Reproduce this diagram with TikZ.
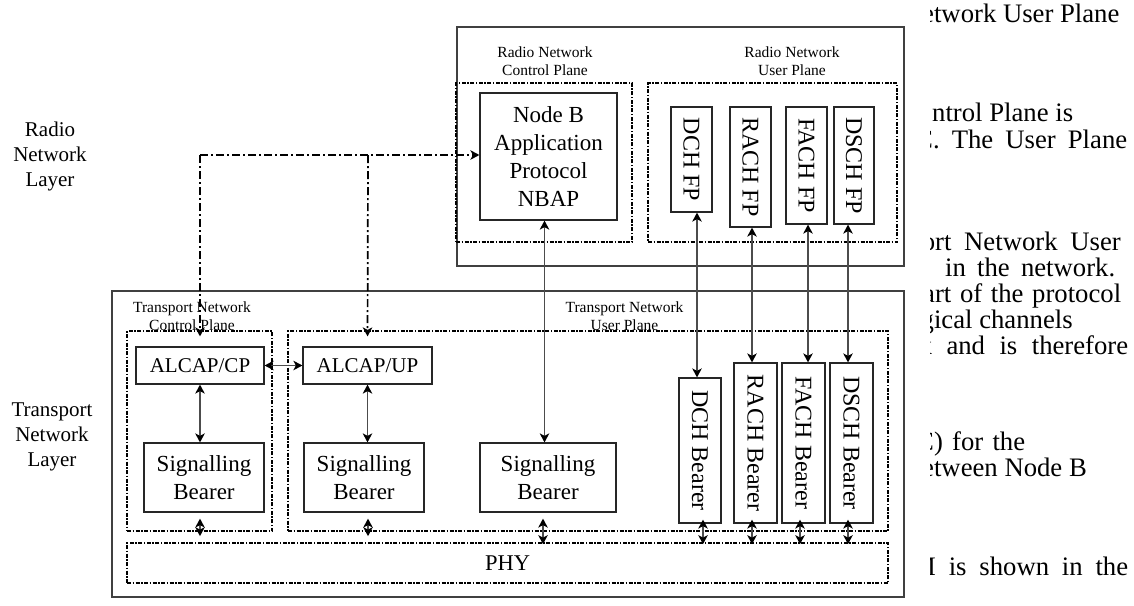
\documentclass[tikz,border=0pt]{standalone}
\usepackage{fontspec}
\setmainfont{Liberation Serif}
\usetikzlibrary{arrows.meta}

\begin{document}
\begin{tikzpicture}[x=1pt,y=-1pt,
  frame/.style={draw=black!75, line width=1.3pt, inner sep=0pt},
  plane/.style={draw=black, line width=1.7pt, inner sep=0pt,
    dash pattern=on 4pt off 1.5pt on 1.5pt off 1.5pt},
  box/.style={draw=black!85, line width=1.2pt, inner sep=0pt, align=center},
  bigtxt/.style={font=\fontsize{23pt}{28pt}\selectfont},
  midtxt/.style={font=\fontsize{21pt}{26pt}\selectfont},
  vtxt/.style={rotate=-90, inner sep=0pt, font=\fontsize{24pt}{28pt}\selectfont},
  planelbl/.style={align=center, inner sep=0pt, font=\fontsize{15.5pt}{18pt}\selectfont},
  layerlbl/.style={align=center, inner sep=0pt, font=\fontsize{21pt}{25pt}\selectfont},
  rtext/.style={anchor=base west, inner sep=0pt, font=\fontsize{26.7pt}{27pt}\selectfont},
  tipb/.tip={Stealth[length=9pt, width=9.5pt, inset=2.5pt, color=black]},
  dbl/.style={draw=black!70, line width=1.5pt, tipb-tipb},
  ctrl/.style={draw=black, line width=1.7pt, -tipb,
    dash pattern=on 8pt off 3pt on 2pt off 3pt},
]
\useasboundingbox (0,0) rectangle (1134,605);

% ---------- layer captions ----------
\node[layerlbl] (rnl) at (50,156) {Radio\\Network\\Layer};
\node[layerlbl] (tnl) at (52,437) {Transport\\Network\\Layer};

% ---------- radio network layer ----------
\node[frame, minimum width=447pt, minimum height=239pt] (rnframe) at (680.5,146.5) {};
\node[plane, minimum width=176pt, minimum height=159pt] (rncp) at (544,162.5) {};
\node[plane, minimum width=249pt, minimum height=159pt] (rnup) at (772.5,162.5) {};
\node[planelbl] (rncplbl) at (545,61) {Radio Network\\Control Plane};
\node[planelbl] (rnuplbl) at (792,61) {Radio Network\\User Plane};

\node[box, bigtxt, minimum width=137pt, minimum height=127pt] (nbap) at (548.5,156.5)
  {Node B\\Application\\Protocol\\NBAP};
\node[box, minimum width=41pt, minimum height=105pt,
  label={[vtxt]center:DCH FP}] (dchfp) at (691.5,159.5) {};
\node[box, minimum width=41pt, minimum height=120pt,
  label={[vtxt]center:RACH FP}] (rachfp) at (750.5,167) {};
\node[box, minimum width=41pt, minimum height=117pt,
  label={[vtxt]center:FACH FP}] (fachfp) at (806.5,165.5) {};
\node[box, minimum width=40pt, minimum height=117pt,
  label={[vtxt]center:DSCH FP}] (dschfp) at (854,165.5) {};

% ---------- transport network layer ----------
\node[frame, minimum width=792pt, minimum height=306pt] (tnframe) at (508,444) {};
\node[plane, minimum width=145pt, minimum height=200pt] (tncp) at (199.5,431) {};
\node[plane, minimum width=600pt, minimum height=200pt] (tnup) at (588,431) {};
\node[plane, minimum width=761pt, minimum height=40pt,
  font=\fontsize{22.5pt}{26pt}\selectfont] (phy) at (507.5,563) {PHY};
\node[planelbl] (tncplbl) at (192,316) {Transport Network\\Control Plane};
\node[planelbl] (tnuplbl) at (624.5,316) {Transport Network\\User Plane};

\node[box, midtxt, minimum width=128pt, minimum height=37pt] (acp) at (200,365.5) {ALCAP/CP};
\node[box, midtxt, minimum width=129pt, minimum height=37pt] (aup) at (367.5,365.5) {ALCAP/UP};
\node[box, bigtxt, minimum width=120pt, minimum height=69pt] (sbcp) at (204,477.5) {Signalling\\Bearer};
\node[box, bigtxt, minimum width=120pt, minimum height=69pt] (sbu1) at (364,477.5) {Signalling\\Bearer};
\node[box, bigtxt, minimum width=136pt, minimum height=69pt] (sbu2) at (548,477.5) {Signalling\\Bearer};

\node[box, minimum width=42pt, minimum height=145pt,
  label={[vtxt]center:DCH Bearer}] (dchb) at (700,450.5) {};
\node[box, minimum width=43pt, minimum height=160pt,
  label={[vtxt]center:RACH Bearer}] (rachb) at (755.5,443) {};
\node[box, minimum width=43pt, minimum height=160pt,
  label={[vtxt]center:FACH Bearer}] (fachb) at (803.5,443) {};
\node[box, minimum width=43pt, minimum height=160pt,
  label={[vtxt]center:DSCH Bearer}] (dschb) at (851.5,443) {};

% ---------- control signalling (dash-dot) ----------
\coordinate (j1) at (200,155);
\coordinate (j2) at (368,155);
\draw[ctrl] (j1) -- (j1 -| nbap.west);
\draw[ctrl, shorten >=10pt] (j1) -- (acp.north);
\draw[ctrl, shorten >=10pt] (j2) -- (aup.north);

% ---------- solid links ----------
\draw[dbl] (acp.east) -- (aup.west);
\draw[dbl] (acp.south) -- (acp.south |- sbcp.north);
\draw[dbl] (aup.south) -- (aup.south |- sbu1.north);

\path (nbap.south) ++(-4,0) coordinate (n0);
\draw[dbl] (n0) -- (n0 |- sbu2.north);
\path (dchfp.south) ++(5.5,0) coordinate (f1);
\draw[dbl] (f1) -- (f1 |- dchb.north);
\path (rachfp.south) ++(1.5,0) coordinate (f2);
\draw[dbl] (f2) -- (f2 |- rachb.north);
\path (fachfp.south) ++(1.5,0) coordinate (f3);
\draw[dbl] (f3) -- (f3 |- fachb.north);
\path (dschfp.south) ++(-6,0) coordinate (f4);
\draw[dbl] (f4) -- (f4 |- dschb.north);

% ---------- links down to PHY ----------
\path (sbcp.south) ++(-4,0) coordinate (p1);
\draw[dbl, shorten <=6pt, shorten >=6pt] (p1) -- (p1 |- phy.north);
\path (sbu1.south) ++(4,0) coordinate (p2);
\draw[dbl, shorten <=6pt, shorten >=6pt] (p2) -- (p2 |- phy.north);
\path (sbu2.south) ++(-5,0) coordinate (p3);
\draw[dbl, shorten <=6pt, shorten >=-2pt] (p3) -- (p3 |- phy.north);
\path (dchb.south) ++(3,0) coordinate (p4);
\draw[dbl, shorten <=-4pt, shorten >=-2pt] (p4) -- (p4 |- phy.north);
\path (rachb.south) ++(-3.5,0) coordinate (p5);
\draw[dbl, shorten <=-4pt, shorten >=-2pt] (p5) -- (p5 |- phy.north);
\path (fachb.south) ++(-3.5,0) coordinate (p6);
\draw[dbl, shorten <=-4pt, shorten >=-2pt] (p6) -- (p6 |- phy.north);
\path (dschb.south) ++(-3.5,0) coordinate (p7);
\draw[dbl, shorten <=-4pt, shorten >=-2pt] (p7) -- (p7 |- phy.north);

% ---------- running text at the page edge ----------
\begin{scope}
  \clip (930,0) rectangle (1134,605);
  \node[rtext] (t1)  at (922,23)    {etwork User Plane};
  \node[rtext] (t2)  at (932,121)   {ntrol Plane is};
  \node[rtext] (t3)  at (915,148)   {\makebox[212pt][s]{C. The User Plane}};
  \node[rtext] (t4)  at (921.6,250) {\makebox[199pt][s]{ort Network User}};
  \node[rtext] (t5)  at (945,276)   {\makebox[170pt][s]{in the network.}};
  \node[rtext] (t6)  at (923,302)   {\makebox[198pt][s]{art of the protocol}};
  \node[rtext] (t7)  at (920.5,328) {gical channels};
  \node[rtext] (t8)  at (918.5,354) {\makebox[209.5pt][s]{k and is therefore}};
  \node[rtext] (t9)  at (916,450)   {\makebox[109pt][s]{C) for the}};
  \node[rtext] (t10) at (922,476)   {etween Node B};
  \node[rtext] (t11) at (912,575)   {\makebox[216pt][s]{M is shown in the}};
\end{scope}
\end{tikzpicture}
\end{document}
